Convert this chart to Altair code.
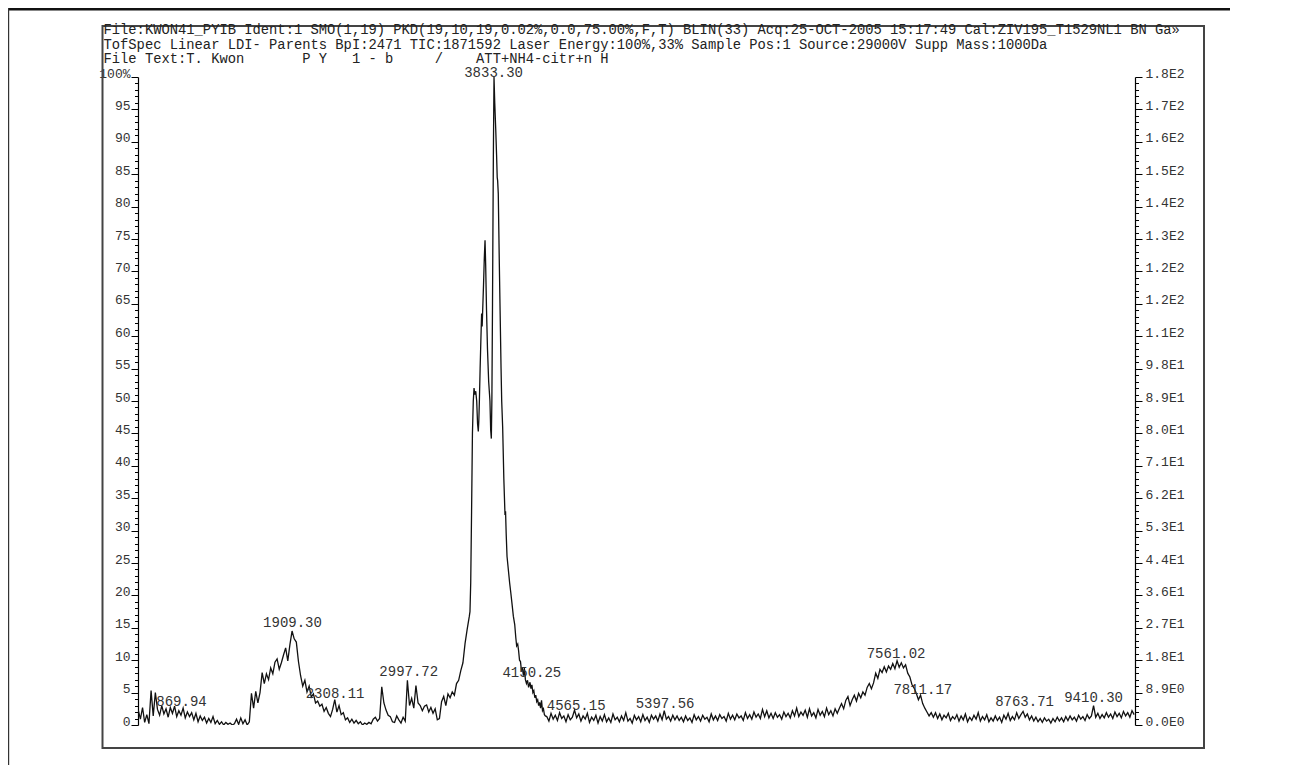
import json
import altair as alt
import pandas as pd

FONT = "Liberation Mono"
NB = "\u00a0"

# ---------------- text content ----------------
HEADER_LINES = [
    "File:KWON41_PYIB Ident:1 SMO(1,19) PKD(19,10,19,0.02%,0.0,75.00%,F,T) BLIN(33) Acq:25-OCT-2005 15:17:49 Cal:ZIV195_T1529NL1 BN Ga\u00bb",
    "TofSpec Linear LDI- Parents BpI:2471 TIC:1871592 Laser Energy:100%,33% Sample Pos:1 Source:29000V Supp Mass:1000Da",
    "File Text:T. Kwon" + NB * 7 + "P" + NB + "Y" + NB * 3 + "1" + NB + "-" + NB + "b" + NB * 5 + "/" + NB * 4 + "ATT+NH4-citr+n" + NB + "H",
]

RIGHT_LABELS = ["0.0E0", "8.9E0", "1.8E1", "2.7E1", "3.6E1", "4.4E1", "5.3E1", "6.2E1",
                "7.1E1", "8.0E1", "8.9E1", "9.8E1", "1.1E2", "1.2E2", "1.2E2", "1.3E2",
                "1.4E2", "1.5E2", "1.6E2", "1.7E2", "1.8E2"]

PEAK_TEXT = ["869.94", "1909.30", "2308.11", "2997.72", "3833.30", "4150.25",
             "4565.15", "5397.56", "7561.02", "7811.17", "8763.71", "9410.30"]
PEAK_X = [869.94, 1909.30, 2308.11, 2997.72, 3792.0, 4150.25,
          4565.15, 5397.56, 7561.02, 7811.17, 8763.71, 9410.30]
PEAK_Y = [3.6, 15.7, 4.8, 8.2, 100.6, 8.0, 3.0, 3.2, 10.9, 5.4, 3.6, 4.1]

# ---------------- spectrum (relative intensity %) ----------------
SEG_A_START = 465
SEG_A = [2.3, 0.9, 2.7, 0.4, 1.6, 0.2, 5.3, 1.4, 5.0, 2.4,
         1.5, 3.0, 1.7, 2.5, 1.2, 2.7, 1.8, 2.9, 1.3, 2.2,
         1.5, 2.6, 1.1, 2.0, 1.3, 1.9, 0.8, 1.8, 0.5, 1.4,
         0.7, 1.2, 0.3, 1.0, 0.4, 1.3, 0.2, 0.7, 0.1, 0.5,
         0.0, 0.4, 0.1, 0.3, 0.0, 0.2, 0.9, 0.1, 1.1, 0.2,
         0.8, 0.0, 0.5]

SEG_B_START = 1525
SEG_B = [4.9, 2.6, 5.2, 3.4, 5.0, 8.1, 6.4, 7.9, 7.0, 8.8,
         7.9, 9.7, 10.2, 8.6, 9.6, 10.8, 11.9, 9.9, 12.4, 14.5,
         13.3, 12.8, 9.8, 7.6, 6.0, 6.9, 5.1, 6.0, 4.3, 4.8,
         3.4, 3.7, 2.9, 3.2, 2.1, 2.7, 1.8, 1.3, 2.4, 3.9,
         2.0, 3.0, 1.6, 1.9, 0.8, 1.1, 0.4, 0.9, 0.3, 0.7,
         0.2, 0.5, 0.0, 0.3, 0.1, 0.4, 0.2, 0.9, 1.2, 0.6,
         1.0, 5.9, 3.4, 2.3, 1.5, 1.3, 0.5, 0.4, 1.4, 0.8,
         0.3, 1.2, 0.6, 6.9, 3.0, 4.1, 2.6, 6.1, 3.4, 3.0,
         2.2, 2.9, 3.1, 2.0, 2.7, 1.8, 2.5, 0.8, 1.0, 3.6,
         4.4, 3.0, 4.8, 4.2, 5.1, 4.6, 6.4, 6.9, 8.4, 9.6,
         12.6, 14.8, 16.8]

CLUSTER_MZ = [3571, 3578, 3586, 3594, 3602, 3609, 3616, 3625, 3634, 3642,
              3649, 3654, 3659, 3666, 3674, 3680, 3685, 3690, 3698, 3705,
              3712, 3718, 3726, 3735, 3746, 3758, 3765, 3771, 3776, 3782,
              3790, 3796, 3803, 3812, 3820, 3826, 3830, 3836, 3845, 3853,
              3862, 3868, 3877, 3888, 3899, 3904, 3910, 3918, 3930, 3942,
              3954, 3966, 3977, 3990, 4000, 4008, 4018, 4026, 4035, 4044,
              4052, 4062, 4072, 4080, 4090, 4100, 4110, 4120, 4133, 4142,
              4151, 4160, 4169, 4178, 4187, 4196, 4205, 4214, 4223, 4232,
              4241, 4250, 4259, 4268, 4277]
CLUSTER_INT = [17.5, 22, 33, 45, 50, 52, 51, 51.5, 50, 46.5,
               45.3, 47, 50, 55, 60, 63.5, 61.5, 64, 68, 72,
               74.8, 71, 64, 58, 53, 50, 45.5, 44.2, 50, 65,
               88, 100, 96, 92, 88, 84.5, 84, 82, 72, 64,
               55, 50, 46, 38, 32.4, 33, 29.5, 26, 24, 22,
               20.3, 18.5, 16.8, 15.5, 13.5, 12.2, 12.5, 11.5, 10, 9.8,
               8.5, 8.7, 7.6, 8.8, 7.0, 6.4, 6.9, 5.8, 6.6, 5.6,
               6.2, 5.0, 5.3, 4.2, 4.6, 3.6, 3.9, 3.0, 3.5, 2.6,
               3.8, 2.2, 2.5, 1.6, 1.4]

SEG_C_START = 4290
SEG_C = [1.3, 0.6, 1.8, 0.9, 1.5, 0.7, 1.9, 1.0, 1.4, 0.5,
         1.6, 0.8, 1.2, 2.3, 1.1, 1.7, 0.6, 1.4, 0.9, 1.8,
         0.4, 1.2, 0.7, 1.5, 0.3, 1.3, 0.6, 1.6, 0.5, 1.1,
         0.4, 1.7, 0.8, 1.2, 0.5, 1.4, 0.7, 1.9, 0.6, 1.0,
         0.3, 1.5, 0.8, 1.3, 0.5, 1.6, 0.7, 1.2, 0.4, 1.5,
         0.9, 1.4, 0.6, 1.7, 0.8, 2.2, 0.9, 1.3, 0.6, 1.5,
         0.8, 1.4, 0.7]

SEG_D_START = 5550
SEG_D = [1.2, 0.5, 1.4, 0.7, 1.1, 0.4, 1.6, 0.8, 1.3, 0.6,
         1.5, 0.9, 1.2, 0.5, 1.7, 0.8, 1.4, 0.7, 1.6, 1.0,
         1.3, 0.6, 1.8, 0.9, 1.5, 0.8, 1.7, 1.1, 1.4, 0.7,
         1.9, 1.0, 1.6, 0.9, 2.0, 1.2, 1.7, 1.0, 2.4, 1.3,
         2.2, 1.1, 1.8, 1.0, 1.9, 1.2, 1.6, 0.9, 2.0, 1.3,
         1.8, 1.1, 2.2, 1.4, 2.6, 1.3, 2.0, 1.5, 2.3, 1.2,
         2.5, 1.4, 1.9, 1.1, 2.4, 1.5, 2.1, 1.3, 2.6, 1.6,
         2.2, 1.4, 2.5, 1.8]

SEG_E_START = 7030
SEG_E = [2.6, 3.3, 2.5, 3.8, 4.4, 3.0, 3.9, 4.6, 3.7, 4.9,
         4.2, 5.1, 4.6, 5.8, 6.4, 5.6, 6.5, 8.0, 7.2, 8.6,
         8.1, 9.0, 8.2, 9.1, 8.6, 9.5, 8.7, 9.9, 8.9, 9.6,
         8.8, 9.3, 8.0, 7.4, 6.2, 5.7, 4.9, 3.9, 4.6, 3.3,
         2.6, 2.0, 1.4, 1.9]

SEG_F_START = 7910
SEG_F = [1.2, 1.9, 1.0, 1.7, 0.8, 1.5, 1.1, 1.8, 0.7, 1.3,
         0.9, 1.6, 0.6, 1.4, 0.8, 1.7, 0.5, 1.2, 0.7, 1.5,
         0.9, 1.9, 0.6, 1.3, 0.8, 1.6, 0.5, 1.1, 0.6, 1.4,
         0.7, 1.2, 0.4, 1.5, 0.9, 1.8, 0.7, 1.3, 0.8, 1.9,
         1.0, 1.6, 2.1, 1.2, 1.7, 0.8, 1.4, 0.6, 1.2, 0.5,
         1.0, 0.4, 1.1, 0.6, 0.9, 0.3, 1.0, 0.5, 1.2, 0.6,
         1.1, 0.5, 1.3, 0.7, 1.4, 0.8, 1.2, 0.6, 1.5, 0.9,
         1.3, 0.7, 1.6, 1.0, 1.4, 3.0, 1.2, 1.8, 1.0, 1.6,
         1.1, 1.9, 1.2, 1.7, 1.0, 2.0, 1.3, 1.8, 1.1, 2.1,
         1.4, 1.9, 1.2, 2.2, 1.6]

GRID_STEP = 20

mz, inten = [], []
for start, vals in [(SEG_A_START, SEG_A), (SEG_B_START, SEG_B)]:
    for i, v in enumerate(vals):
        mz.append(start + GRID_STEP * i)
        inten.append(v)
mz += CLUSTER_MZ
inten += CLUSTER_INT
for start, vals in [(SEG_C_START, SEG_C), (SEG_D_START, SEG_D),
                    (SEG_E_START, SEG_E), (SEG_F_START, SEG_F)]:
    for i, v in enumerate(vals):
        mz.append(start + GRID_STEP * i)
        inten.append(v)

spec = pd.DataFrame({"mz": mz, "pct": inten})
peaks = pd.DataFrame({"mz": PEAK_X, "pct": PEAK_Y, "label": PEAK_TEXT})

X_DOMAIN = [462.5, 9798]
Y_DOMAIN = [0, 100]

xscale = alt.Scale(domain=X_DOMAIN, nice=False, zero=False)
yscale = alt.Scale(domain=Y_DOMAIN, nice=False)

x_axis = alt.Axis(
    values=list(range(500, 9800, 100)),
    labelExpr="datum.value % 500 === 0 ? datum.value : ''",
    tickSize={"condition": {"test": "datum.value % 500 === 0", "value": 6}, "value": 4},
    grid=False, labelOverlap=False, labelFlush=False,
    labelFont=FONT, labelFontSize=13, labelColor="#333", labelPadding=2,
    domainColor="#000", tickColor="#000", domainWidth=1.2,
    title="m/z", titleFont=FONT, titleFontSize=13, titleFontWeight="normal",
    titleColor="#333", titleX=1064, titleY=15, titleAlign="right",
    titleBaseline="alphabetic", titleAnchor="end",
)

left_axis = alt.Axis(
    orient="left",
    values=list(range(0, 101)),
    labelExpr="datum.value % 5 === 0 ? (datum.value === 100 ? '100%' : datum.value) : ''",
    tickSize={"condition": {"test": "datum.value % 5 === 0", "value": 7}, "value": 3.5},
    grid=False, labelOverlap=False, labelFlush=False,
    labelFont=FONT, labelFontSize=13, labelColor="#333", labelPadding=1,
    labelBaseline="alphabetic", labelAlign="right",
    domainColor="#000", tickColor="#000", domainWidth=1.2, title=None,
)

right_axis = alt.Axis(
    orient="right",
    values=list(range(0, 101)),
    labelExpr="datum.value % 5 === 0 ? " + json.dumps(RIGHT_LABELS) + "[round(datum.value / 5)] : ''",
    tickSize={"condition": {"test": "datum.value % 5 === 0", "value": 7}, "value": 3.5},
    grid=False, labelOverlap=False, labelFlush=False,
    labelFont=FONT, labelFontSize=13, labelColor="#333", labelPadding=3,
    labelBaseline="alphabetic", labelAlign="left",
    domainColor="#000", tickColor="#000", domainWidth=1.2, title=None,
)

line = alt.Chart(spec).mark_line(color="#111", strokeWidth=1.3, clip=True).encode(
    x=alt.X("mz:Q", scale=xscale, axis=x_axis),
    y=alt.Y("pct:Q", scale=yscale, axis=left_axis),
)

right = alt.Chart(pd.DataFrame({"mz": [X_DOMAIN[0]], "pct": [0]})).mark_point(opacity=0).encode(
    x=alt.X("mz:Q", scale=xscale, axis=None),
    y=alt.Y("pct:Q", scale=yscale, axis=right_axis),
)

labels = alt.Chart(peaks).mark_text(
    font=FONT, fontSize=14, color="#333", baseline="middle", align="center"
).encode(
    x=alt.X("mz:Q", scale=xscale, axis=None),
    y=alt.Y("pct:Q", scale=yscale, axis=None),
    text="label:N",
)

one = pd.DataFrame({"a": [0]})
frame = alt.Chart(one).mark_rect(fillOpacity=0, stroke="#444", strokeWidth=2).encode(
    x=alt.value(-35.5), x2=alt.value(1066), y=alt.value(-51), y2=alt.value(671)
)
top_edge = alt.Chart(one).mark_rect(color="#111").encode(
    x=alt.value(-130), x2=alt.value(1100), y=alt.value(-69), y2=alt.value(-66.5)
)
left_edge = alt.Chart(one).mark_rect(color="#333").encode(
    x=alt.value(-130), x2=alt.value(-128.8), y=alt.value(-69), y2=alt.value(720)
)

HEADER_Y = [-47, -32.5, -18]
headers = [
    alt.Chart(pd.DataFrame({"t": [txt]})).mark_text(
        align="left", baseline="middle", font=FONT, fontSize=13.8, color="#222"
    ).encode(text="t:N", x=alt.value(-34.5), y=alt.value(yy))
    for txt, yy in zip(HEADER_LINES, HEADER_Y)
]

chart = alt.layer(line, right, labels, frame, top_edge, left_edge, *headers).resolve_scale(
    y="independent"
).resolve_axis(y="independent").properties(
    width=997, height=648,
    autosize=alt.AutoSizeParams(type="none"),
    padding={"left": 130, "top": 69, "right": 95, "bottom": 40},
    background="white",
).configure_view(stroke=None)

chart.save("out.html", embed_options={"renderer": "svg", "actions": False})
